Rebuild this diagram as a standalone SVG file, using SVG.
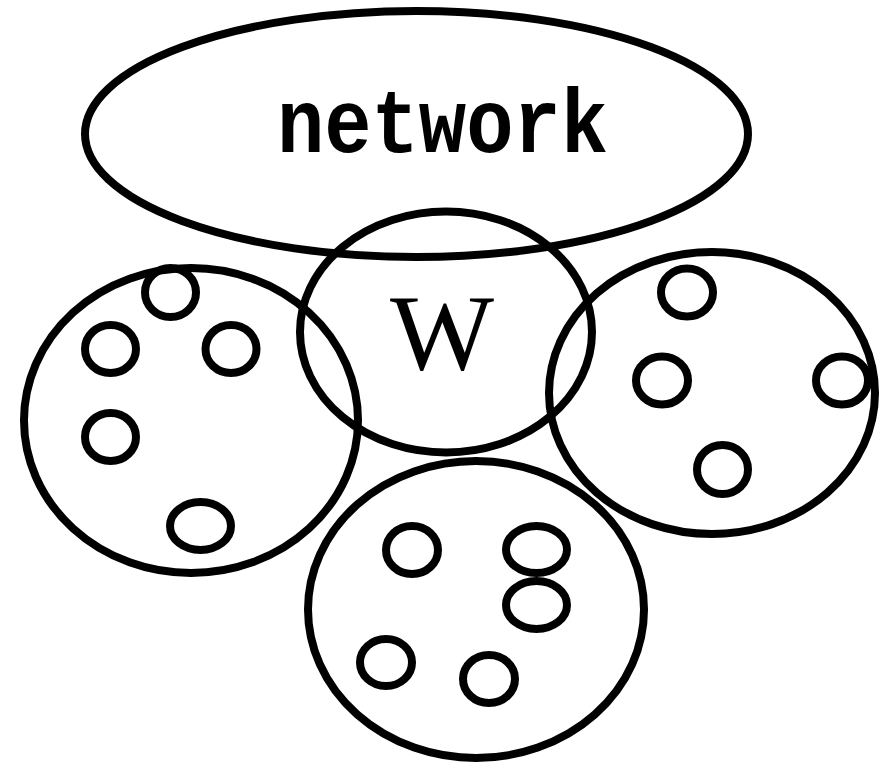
<svg xmlns="http://www.w3.org/2000/svg" width="879" height="763" viewBox="0 0 879 763">
  <style>
    .ring { fill: none; stroke: #000; stroke-width: 8; }
    .dot { fill: none; stroke: #000; stroke-width: 8; }
    .lbl { fill: #000; font-family: "Liberation Mono", "DejaVu Sans Mono", monospace; font-weight: bold; }
    .w { fill: #000; font-family: "Liberation Serif", "DejaVu Serif", serif; }
  </style>
  <rect width="879" height="763" fill="#fff"/>
  <g id="connectors"/>
  <g id="network">
    <ellipse class="ring" cx="416.5" cy="134" rx="331.5" ry="123"/>
    <text class="lbl" x="442.5" y="152" font-size="90" text-anchor="middle" textLength="331" lengthAdjust="spacingAndGlyphs">network</text>
  </g>
  <g id="w">
    <ellipse class="ring" cx="446" cy="332" rx="146" ry="120.5"/>
    <text class="w" x="442" y="369" font-size="108" text-anchor="middle" textLength="104" lengthAdjust="spacingAndGlyphs">W</text>
  </g>
  <g id="left-cluster">
    <ellipse class="ring" cx="191" cy="420.5" rx="167" ry="152.5"/>
    <ellipse class="dot" cx="170.5" cy="292.5" rx="25.5" ry="24.5"/>
    <ellipse class="dot" cx="110.5" cy="349" rx="25.5" ry="24"/>
    <ellipse class="dot" cx="231" cy="349" rx="25.5" ry="24"/>
    <ellipse class="dot" cx="110.5" cy="437" rx="25.5" ry="24"/>
    <ellipse class="dot" cx="200.5" cy="526" rx="30.5" ry="24"/>
  </g>
  <g id="right-cluster">
    <ellipse class="ring" cx="712" cy="393" rx="163" ry="141"/>
    <ellipse class="dot" cx="687" cy="292.5" rx="26" ry="24"/>
    <ellipse class="dot" cx="662" cy="380.5" rx="26" ry="24"/>
    <ellipse class="dot" cx="842" cy="380.5" rx="26" ry="24"/>
    <ellipse class="dot" cx="722.5" cy="469.5" rx="25.5" ry="24.5"/>
  </g>
  <g id="bottom-cluster">
    <ellipse class="ring" cx="476" cy="609.5" rx="168" ry="148.5"/>
    <ellipse class="dot" cx="412" cy="550" rx="26" ry="24"/>
    <ellipse class="dot" cx="536.5" cy="549.5" rx="30.5" ry="23.5"/>
    <ellipse class="dot" cx="536.5" cy="605" rx="30.5" ry="24"/>
    <ellipse class="dot" cx="386" cy="662.5" rx="26" ry="23.5"/>
    <ellipse class="dot" cx="489" cy="679" rx="26" ry="24"/>
  </g>
</svg>
